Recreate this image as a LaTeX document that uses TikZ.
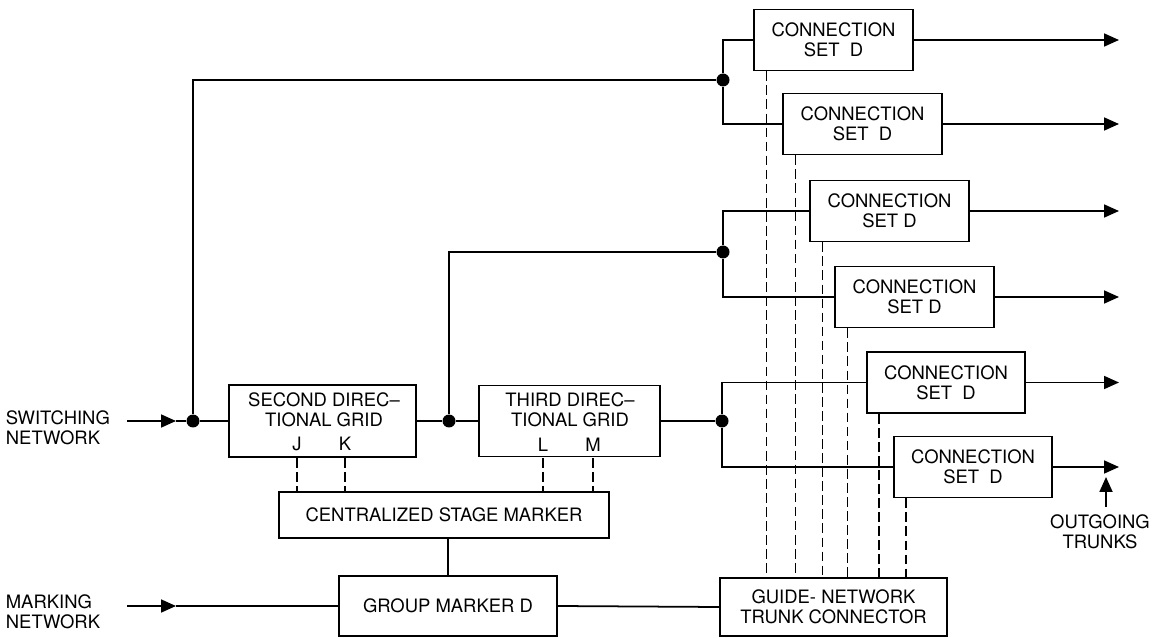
\documentclass[tikz,border=0pt]{standalone}
\usepackage{fontspec}
\setsansfont{TeX Gyre Heros}
\usetikzlibrary{arrows.meta}
\begin{document}
\begin{tikzpicture}[x=0.02cm,y=-0.02cm,line width=1pt,
  >={Triangle[length=0.3cm,width=0.26cm]},
  every node/.style={font=\sffamily\fontsize{10.5}{11.3}\selectfont,align=center,inner sep=0pt},
  blk/.style={draw,line width=1pt},
  csbox/.style={blk,minimum width=3.17cm,minimum height=1.22cm},
  dot/.style={circle,fill,minimum size=0.26cm},
  ctl/.style={dash pattern=on 5.5pt off 2.5pt,line width=0.8pt}]
\useasboundingbox (0,0) rectangle (1153,638);
% connection sets
\node[csbox] (cs1) at (833.5,40) {CONNECTION\\SET\ \ D};
\node[csbox] (cs2) at (862.5,124) {CONNECTION\\SET\ \ D};
\node[csbox] (cs3) at (889.5,211) {CONNECTION\\SET D};
\node[csbox] (cs4) at (914.5,297) {CONNECTION\\SET D};
\node[csbox] (cs5) at (946,382.5) {CONNECTION\\SET\ \ D};
\node[csbox] (cs6) at (973,467) {CONNECTION\\SET\ \ D};
% grids and markers
\node[blk,minimum width=3.74cm,minimum height=1.44cm] (sdg) at (322.5,421) {};
\node (sdgt) at (324,410) {SECOND DIREC--\\TIONAL GRID};
\node (J) at (297,444) {J};
\node (K) at (345,444) {K};
\node[blk,minimum width=3.62cm,minimum height=1.42cm] (tdg) at (569.5,421) {};
\node (tdgt) at (570,410) {THIRD DIREC--\\TIONAL GRID};
\node (L) at (543,445) {L};
\node (M) at (593,445) {M};
\node[blk,minimum width=6.6cm,minimum height=0.92cm] (csm) at (444,515) {CENTRALIZED STAGE MARKER};
\node[blk,minimum width=4.36cm,minimum height=1.2cm] (gmd) at (448,606) {GROUP MARKER D};
\node[blk,minimum width=4.54cm,minimum height=1.16cm] (gntc) at (833.5,607) {GUIDE- NETWORK\\TRUNK CONNECTOR};
% labels
\node[anchor=west,align=left] (swlbl) at (5,428) {SWITCHING\\NETWORK};
\node[anchor=west,align=left] (mklbl) at (5,612) {MARKING\\NETWORK};
\node (otlbl) at (1100,532) {OUTGOING\\TRUNKS};
% junctions
\node[dot] (j0) at (193,421) {};
\node[dot] (jb) at (449,421) {};
\node[dot] (j1) at (723,80) {};
\node[dot] (j2) at (723,252) {};
\node[dot] (j3) at (722,421) {};
\coordinate (swin) at (127,421);
\coordinate (swtip) at (176,421);
\coordinate (mkin) at (127,606);
\coordinate (mktip) at (176,606);
\coordinate (outx) at (1119,0);
\coordinate (ottip) at (1106,477);
% speech path
\draw[->] (swin) -- (swtip);
\draw (swtip) -- (j0) -- (sdg.west);
\draw (j0) |- (j1);
\draw (j1) |- (cs1.west);
\draw (j1) |- (cs2.west);
\draw (sdg.east) -- (jb) -- (tdg.west);
\draw (jb) |- (j2);
\draw (j2) |- (cs3.west);
\draw (j2) |- (cs4.west);
\draw (tdg.east) -- (j3);
\draw (j3) |- (cs5.west);
\draw (j3) |- (cs6.west);
\foreach \i in {1,...,6}
  \draw[->] (cs\i.east) -- (cs\i.east -| outx);
\draw[->] ([yshift=0.14cm]otlbl.north -| ottip) -- (ottip);
% marking path
\draw[->] (mkin) -- (mktip);
\draw (mktip) -- (gmd.west);
\draw (gmd.north) -- (gmd.north |- csm.south);
\draw (gmd.east) -- (gntc.west);
\foreach \p in {J,K,L,M}
  \draw[ctl] (\p |- sdg.south) -- (\p |- csm.north);
\foreach \i in {1,...,6} {
  \coordinate (d\i) at ([xshift=0.26cm]cs\i.south west);
  \draw[ctl] (d\i) -- (d\i |- gntc.north);
}
\end{tikzpicture}
\end{document}
